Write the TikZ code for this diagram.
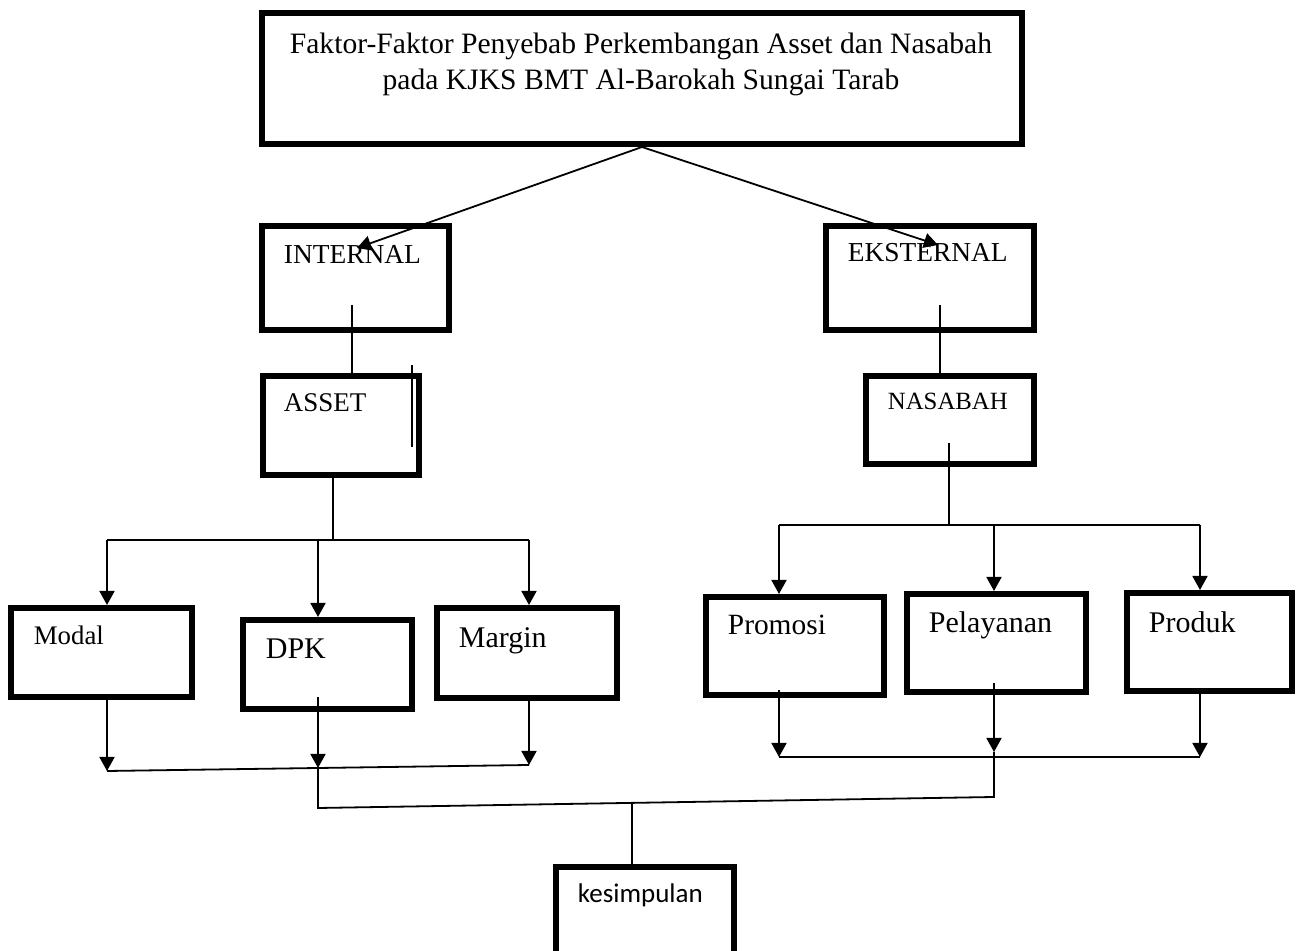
\documentclass[tikz,border=0pt]{standalone}
\usepackage{fontspec}
\setmainfont{Liberation Serif}
\newfontfamily\kesfont{Carlito}
\usetikzlibrary{positioning, arrows.meta}

\begin{document}
\begin{tikzpicture}
	[x=0.5pt, y=-0.5pt, line width=0.9pt, >={Triangle[length=7pt,width=7.5pt]},
	 box/.style 2 args={draw, line width=2.8pt, minimum width=#1, minimum height=#2, inner sep=0pt},
	 txt/.style={anchor=base west, inner sep=0pt, font=\fontsize{#1}{#1}\selectfont},
	 txt/.default=13.7]
   \useasboundingbox (0,0) rectangle (1298,951);
   \clip (0,0) rectangle (1298,951);

   \node[box={380.2pt}{65.7pt}] (faktor) at (642,78.5) {};
   \node[anchor=north, align=center, inner sep=0pt, font=\fontsize{14.8}{18}\selectfont] (faktor_t) at (641,32)
      {Faktor-Faktor Penyebab Perkembangan Asset dan Nasabah\\pada KJKS BMT Al-Barokah Sungai Tarab};

   \node[box={93.7pt}{52.2pt}] (internal) at (355.5,278) {};
   \node[box={104.2pt}{52.2pt}] (eksternal) at (930,278) {};
   \node[box={78.2pt}{49.7pt}] (asset) at (341,425.5) {};
   \node[box={84.2pt}{44.2pt}] (nasabah) at (950,420) {};
   \node[box={90.7pt}{44.7pt}] (modal) at (101.5,652.5) {};
   \node[box={84.7pt}{44.7pt}] (dpk) at (327.5,664.5) {};
   \node[box={90.2pt}{45.2pt}] (margin) at (527,653) {};
   \node[box={89.2pt}{49.2pt}] (promosi) at (795,646) {};
   \node[box={89.7pt}{49.2pt}] (pelayanan) at (996.5,643) {};
   \node[box={82.7pt}{49.2pt}] (produk) at (1209.5,642) {};
   \node[box={89.2pt}{45.2pt}] (kesimpulan) at (645,912) {};

   \node[txt] (internal_t) at (283,264) {INTERNAL};
   \node[txt] (eksternal_t) at (847,262) {EKSTERNAL};
   \node[txt=13.5] (asset_t) at (283,412) {ASSET};
   \node[txt=12.4] (nasabah_t) at (887,410) {NASABAH};
   \node[txt=13.4] (modal_t) at (33,645) {Modal};
   \node[txt=15] (dpk_t) at (265,659) {DPK};
   \node[txt=15] (margin_t) at (458,648) {Margin};
   \node[txt=14.7] (promosi_t) at (727,635) {Promosi};
   \node[txt=15] (pelayanan_t) at (928,633) {Pelayanan};
   \node[txt=15] (produk_t) at (1148,633) {Produk};
   \node[txt=13.5] (kesimpulan_t) at (577,903) {\kesfont kesimpulan};

   \coordinate (int_tip) at (357,248);
   \coordinate (eks_tip) at (938,245);
   \path[->] (faktor.south) edge (int_tip) edge (eks_tip);

   \coordinate (int_stem) at (352,305);
   \coordinate (eks_stem) at (940,305);
   \coordinate (asset_mark) at (412,365);
   \draw (int_stem) -- (int_stem |- asset.north);
   \draw (eks_stem) -- (eks_stem |- nasabah.north);
   \draw (asset_mark) -- ++(0,82);

   \coordinate (asset_stem) at (333,472);
   \coordinate (asset_fork) at (333,540);
   \coordinate (modal_in) at (107,540);
   \coordinate (dpk_in) at (318,540);
   \coordinate (margin_in) at (529,540);
   \draw (asset_stem) -- (asset_fork) (modal_in) -- (margin_in);
   \path[->] (modal_in) edge (modal_in |- modal.north)
      (dpk_in) edge (dpk_in |- dpk.north)
      (margin_in) edge (margin_in |- margin.north);

   \coordinate (nas_stem) at (949,443);
   \coordinate (nas_fork) at (949,525);
   \coordinate (promosi_in) at (779,525);
   \coordinate (pel_in) at (994,525);
   \coordinate (produk_in) at (1200,525);
   \draw (nas_stem) -- (nas_fork) (promosi_in) -- (produk_in);
   \path[->] (promosi_in) edge (promosi_in |- promosi.north)
      (pel_in) edge (pel_in |- pelayanan.north)
      (produk_in) edge (produk_in |- produk.north);

   \coordinate (modal_out) at (107,771);
   \coordinate (dpk_out) at (318,768);
   \coordinate (margin_out) at (529,765);
   \path[->] (modal_out |- modal.south) edge (modal_out)
      (318,697) edge (dpk_out)
      (margin_out |- margin.south) edge (margin_out);
   \draw (modal_out) -- (margin_out);

   \coordinate (promosi_out) at (779,757);
   \coordinate (pel_out) at (994,752);
   \coordinate (produk_out) at (1200,757);
   \path[->] (779,690) edge (promosi_out)
      (994,683) edge (pel_out)
      (produk_out |- produk.south) edge (produk_out);
   \draw (promosi_out) -- (produk_out);

   \coordinate (kes_in) at (632,803);
   \draw (dpk_out) -- (318,808) -- (994,797) -- (pel_out);
   \draw (kes_in) -- (kes_in |- kesimpulan.north);

\end{tikzpicture}
\end{document}
